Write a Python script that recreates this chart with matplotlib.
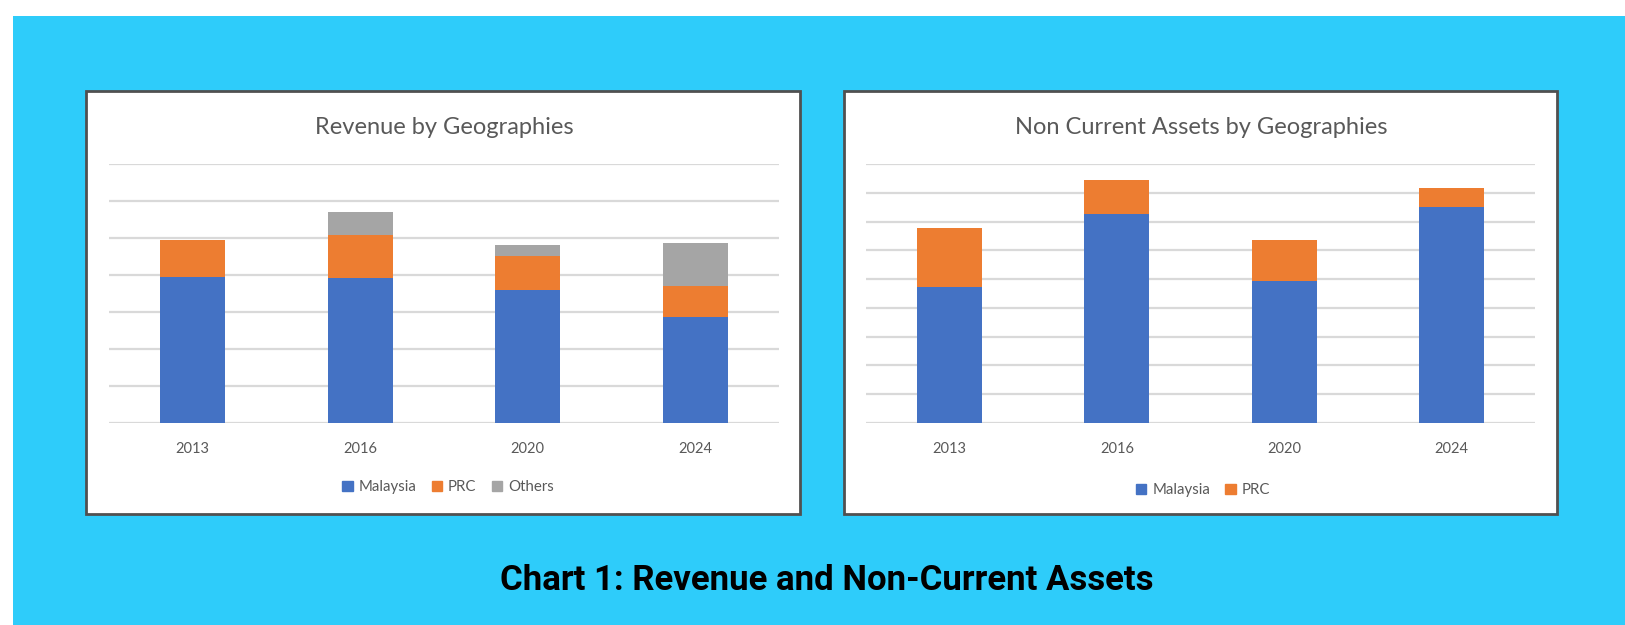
import matplotlib
matplotlib.use("Agg")
import matplotlib.pyplot as plt
from matplotlib.patches import Rectangle, Patch
import numpy as np

# ---- data ----
years = ["2013", "2016", "2020", "2024"]
rev_malaysia = [3.95, 3.93, 3.59, 2.87]
rev_prc = [1.00, 1.15, 0.92, 0.84]
rev_others = [0.0, 0.63, 0.30, 1.16]
nca_malaysia = [4.74, 7.27, 4.93, 7.49]
nca_prc = [2.02, 1.19, 1.43, 0.69]

title_left = "Revenue by Geographies"
title_right = "Non Current Assets by Geographies"
main_title = "Chart 1: Revenue and Non-Current Assets"

C_MY = "#4472C4"
C_PRC = "#ED7D31"
C_OTH = "#A5A5A5"
GRID = "#D9D9D9"
TXT = "#595959"
BLUE_BG = "#2ECCFA"

W, H = 1625, 625
fig = plt.figure(figsize=(W / 100, H / 100), dpi=100, facecolor="white")

def fx(px):
    return px / W

def fy(py):
    return 1 - py / H

# blue background panel
fig.patches.append(Rectangle((fx(13), 0), 1 - fx(13), fy(16), transform=fig.transFigure,
                             facecolor=BLUE_BG, edgecolor="none", zorder=0))
# white chart frames
for x0, x1 in [(86, 800), (844, 1557)]:
    fig.patches.append(Rectangle((fx(x0), fy(514)), fx(x1 - x0), (514 - 91) / H,
                                 transform=fig.transFigure, facecolor="white",
                                 edgecolor="#505050", linewidth=2, zorder=1))

font = "Lato"

def make_axes(px0, px1, ymax, nticks):
    ax = fig.add_axes([fx(px0), fy(423), fx(px1 - px0), (423 - 164) / H])
    ax.set_facecolor("none")
    ax.set_zorder(2)
    ax.set_xlim(-0.5, 3.5)
    ax.set_ylim(0, ymax)
    ax.set_yticks(np.linspace(0, ymax, nticks))
    ax.yaxis.grid(True, color=GRID, linewidth=1.6)
    ax.set_axisbelow(True)
    for s in ax.spines.values():
        s.set_visible(False)
    ax.tick_params(axis="y", length=0, labelleft=False)
    ax.tick_params(axis="x", length=0, pad=14, labelsize=10.5, labelcolor=TXT)
    ax.set_xticks(range(len(years)))
    ax.set_xticklabels(years, fontfamily=font)
    return ax

x = np.arange(len(years))
bw = 0.39

# left chart
axL = make_axes(109, 779, 7, 8)
axL.bar(x, rev_malaysia, bw, color=C_MY, zorder=3)
axL.bar(x, rev_prc, bw, bottom=rev_malaysia, color=C_PRC, zorder=3)
axL.bar(x, rev_others, bw, bottom=np.array(rev_malaysia) + np.array(rev_prc), color=C_OTH, zorder=3)
fig.text(fx(444), fy(128), title_left, ha="center", va="center", fontsize=17,
         color=TXT, fontfamily=font, zorder=5)
handlesL = [Patch(color=C_MY, label="Malaysia"), Patch(color=C_PRC, label="PRC"),
            Patch(color=C_OTH, label="Others")]
fig.legend(handles=handlesL, loc="center", bbox_to_anchor=(fx(448), fy(487)), ncol=3,
           frameon=False, handlelength=0.7, handleheight=0.7, handletextpad=0.4,
           columnspacing=1.0, prop={"family": font, "size": 10.8}, labelcolor=TXT)

# right chart
axR = make_axes(866, 1535, 9, 10)
axR.bar(x, nca_malaysia, bw, color=C_MY, zorder=3)
axR.bar(x, nca_prc, bw, bottom=nca_malaysia, color=C_PRC, zorder=3)
fig.text(fx(1201), fy(128), title_right, ha="center", va="center", fontsize=17,
         color=TXT, fontfamily=font, zorder=5)
handlesR = [Patch(color=C_MY, label="Malaysia"), Patch(color=C_PRC, label="PRC")]
fig.legend(handles=handlesR, loc="center", bbox_to_anchor=(fx(1203), fy(490)), ncol=2,
           frameon=False, handlelength=0.7, handleheight=0.7, handletextpad=0.4,
           columnspacing=1.0, prop={"family": font, "size": 10.8}, labelcolor=TXT)

# main title
fig.text(fx(827), fy(580), main_title, ha="center", va="center", fontsize=25,
         fontweight="bold", fontfamily="Roboto", color="black")

fig.savefig("out.png", dpi=100, facecolor="white")
